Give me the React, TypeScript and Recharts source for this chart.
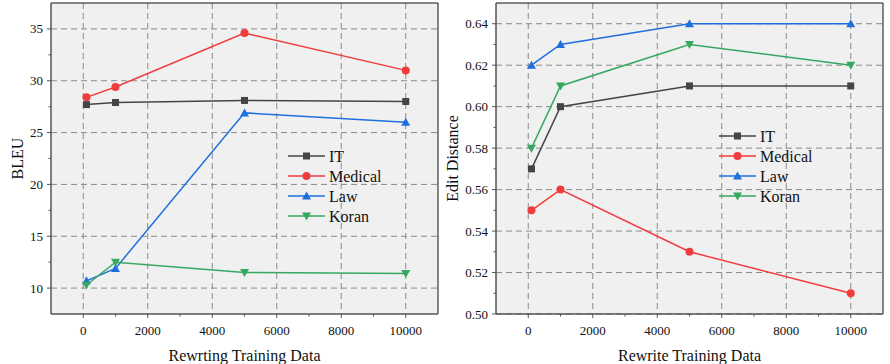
import React from 'react';
import { LineChart, Line, XAxis, YAxis, CartesianGrid, ReferenceLine } from 'recharts';

const trainingSizes = [100, 1000, 5000, 10000];
const seriesNames = ['IT', 'Medical', 'Law', 'Koran'];

const bleuIT = [27.7, 27.9, 28.1, 28.0];
const bleuMedical = [28.4, 29.4, 34.6, 31.0];
const bleuLaw = [10.7, 11.9, 26.9, 26.0];
const bleuKoran = [10.3, 12.5, 11.5, 11.4];

const editIT = [0.57, 0.6, 0.61, 0.61];
const editMedical = [0.55, 0.56, 0.53, 0.51];
const editLaw = [0.62, 0.63, 0.64, 0.64];
const editKoran = [0.58, 0.61, 0.63, 0.62];

const xTicks = [0, 1000, 2000, 3000, 4000, 5000, 6000, 7000, 8000, 9000, 10000];
const xMajor = [0, 2000, 4000, 6000, 8000, 10000];
const bleuTicks = [10, 12.5, 15, 17.5, 20, 22.5, 25, 27.5, 30, 32.5, 35];
const bleuMajor = [10, 15, 20, 25, 30, 35];
const editTicks = [0.5, 0.51, 0.52, 0.53, 0.54, 0.55, 0.56, 0.57, 0.58, 0.59, 0.6, 0.61, 0.62, 0.63, 0.64];
const editMajor = [0.5, 0.52, 0.54, 0.56, 0.58, 0.6, 0.62, 0.64];

const COLORS: Record<string, string> = {
  IT: '#454545',
  Medical: '#f03c3c',
  Law: '#1f6fdf',
  Koran: '#36a862',
};

const FONT = '"Liberation Serif", "Times New Roman", serif';
const W = 445;
const H = 364;

const Marker = ({ name, cx, cy }: { name: string; cx: number; cy: number }) => {
  const c = COLORS[name];
  if (name === 'IT') return <rect x={cx - 3.5} y={cy - 3.5} width={7} height={7} fill={c} />;
  if (name === 'Medical') return <circle cx={cx} cy={cy} r={4} fill={c} />;
  if (name === 'Law')
    return <polygon points={`${cx},${cy - 4.5} ${cx - 4.5},${cy + 3.5} ${cx + 4.5},${cy + 3.5}`} fill={c} />;
  return <polygon points={`${cx},${cy + 4.5} ${cx - 4.5},${cy - 3.5} ${cx + 4.5},${cy - 3.5}`} fill={c} />;
};

const dotFor = (name: string) => (props: any) => {
  const { cx, cy, index } = props;
  if (cx == null || cy == null) return <g key={`e${index}`} />;
  return <Marker key={`${name}-${index}`} name={name} cx={cx} cy={cy} />;
};

const XTick = (props: any) => {
  const { x, y, payload } = props;
  const major = xMajor.includes(payload.value);
  return (
    <g>
      <line x1={x} x2={x} y1={y} y2={y + (major ? 4 : 2.5)} stroke="#555" strokeWidth={1} />
      {major && (
        <text x={x} y={y + 21} textAnchor="middle" fontSize={13} fontFamily={FONT} fill="#111">
          {payload.value}
        </text>
      )}
    </g>
  );
};

const yTickFor = (major: number[], fmt: (v: number) => string) => (props: any) => {
  const { x, y, payload } = props;
  const isMajor = major.some((m) => Math.abs(m - payload.value) < 1e-6);
  return (
    <g>
      <line x1={x} x2={x - (isMajor ? 4 : 2.5)} y1={y} y2={y} stroke="#555" strokeWidth={1} />
      {isMajor && (
        <text x={x - 8} y={y + 4.5} textAnchor="end" fontSize={13} fontFamily={FONT} fill="#111">
          {fmt(payload.value)}
        </text>
      )}
    </g>
  );
};

const Legend = ({ left, top }: { left: number; top: number }) => (
  <svg style={{ position: 'absolute', left, top }} width={120} height={80}>
    {seriesNames.map((n, i) => (
      <g key={n}>
        <line x1={0} x2={37} y1={10 + i * 20} y2={10 + i * 20} stroke={COLORS[n]} strokeWidth={1.5} />
        <Marker name={n} cx={18.5} cy={10 + i * 20} />
        <text x={41} y={15.5 + i * 20} fontSize={16} fontFamily={FONT} fill="#111">
          {n}
        </text>
      </g>
    ))}
  </svg>
);

const Panel = ({
  rows,
  domain,
  ticks,
  major,
  fmt,
  yLabel,
  yLabelX,
  xLabel,
  legendPos,
}: any) => (
  <div style={{ position: 'relative', width: W, height: H }}>
    <LineChart width={W} height={H} data={rows} margin={{ top: 3, right: 7, bottom: 0, left: 0 }}>
      <CartesianGrid
        fill="#f0f0f0"
        stroke="#8a8a8a"
        strokeDasharray="6 4"
        horizontalValues={major}
        verticalValues={xMajor}
      />
      <XAxis
        dataKey="x"
        type="number"
        domain={[-1000, 11000]}
        ticks={xTicks}
        interval={0}
        height={50}
        tickSize={0}
        tickMargin={0}
        tickLine={false}
        tick={<XTick />}
        axisLine={{ stroke: '#555', strokeWidth: 1.5 }}
        label={{
          content: () => (
            <text x={244.5} y={361} textAnchor="middle" fontSize={16} fontFamily={FONT} fill="#111">
              {xLabel}
            </text>
          ),
        }}
      />
      <YAxis
        type="number"
        domain={domain}
        ticks={ticks}
        interval={0}
        width={51}
        tickSize={0}
        tickMargin={0}
        tickLine={false}
        tick={yTickFor(major, fmt)}
        axisLine={{ stroke: '#555', strokeWidth: 1.5 }}
        allowDataOverflow
        label={{
          content: () => (
            <text
              x={yLabelX}
              y={158.5}
              textAnchor="middle"
              fontSize={16}
              fontFamily={FONT}
              fill="#111"
              transform={`rotate(-90 ${yLabelX} 158.5)`}
            >
              {yLabel}
            </text>
          ),
        }}
      />
      <ReferenceLine y={domain[1]} stroke="#111" strokeWidth={1} ifOverflow="extendDomain" />
      <ReferenceLine x={11000} stroke="#111" strokeWidth={1} ifOverflow="extendDomain" />
      {seriesNames.map((n) => (
        <Line
          key={n}
          dataKey={n}
          stroke={COLORS[n]}
          strokeWidth={1.5}
          dot={dotFor(n)}
          activeDot={false}
          isAnimationActive={false}
        />
      ))}
    </LineChart>
    <Legend left={legendPos[0]} top={legendPos[1]} />
  </div>
);

const bleuRows = trainingSizes.map((x, i) => ({
  x,
  IT: bleuIT[i],
  Medical: bleuMedical[i],
  Law: bleuLaw[i],
  Koran: bleuKoran[i],
}));

const editRows = trainingSizes.map((x, i) => ({
  x,
  IT: editIT[i],
  Medical: editMedical[i],
  Law: editLaw[i],
  Koran: editKoran[i],
}));

export default function App() {
  return (
    <div style={{ position: 'absolute', left: 0, top: 0, width: 890, height: 364, display: 'flex', background: '#fff' }}>
      <Panel
        rows={bleuRows}
        domain={[7.5, 37.5]}
        ticks={bleuTicks}
        major={bleuMajor}
        fmt={(v: number) => String(v)}
        yLabel="BLEU"
        yLabelX={23}
        xLabel="Rewrting Training Data"
        legendPos={[288, 146]}
      />
      <Panel
        rows={editRows}
        domain={[0.5, 0.65]}
        ticks={editTicks}
        major={editMajor}
        fmt={(v: number) => v.toFixed(2)}
        yLabel="Edit Distance"
        yLabelX={12.5}
        xLabel="Rewrite Training Data"
        legendPos={[274, 126]}
      />
    </div>
  );
}
